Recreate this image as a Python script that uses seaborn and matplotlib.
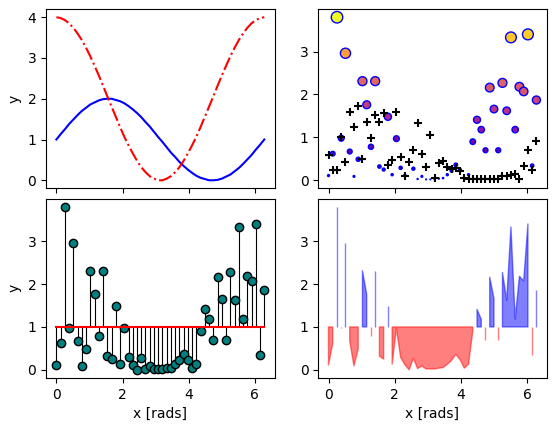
import numpy as np
import matplotlib
matplotlib.use("Agg")
import matplotlib.pyplot as plt
import seaborn as sns

# x positions, 50 samples over one turn
x = np.linspace(0, 2 * np.pi, 50)

# smooth curves in the top-left panel
y_sin = [1.00, 1.13, 1.25, 1.38, 1.49, 1.60, 1.70, 1.78, 1.86, 1.91,
         1.96, 1.99, 2.00, 2.00, 1.97, 1.94, 1.89, 1.82, 1.74, 1.65,
         1.55, 1.43, 1.32, 1.19, 1.06, 0.94, 0.81, 0.68, 0.57, 0.45,
         0.35, 0.26, 0.18, 0.11, 0.06, 0.03, 0.00, 0.00, 0.01, 0.04,
         0.09, 0.14, 0.22, 0.30, 0.40, 0.51, 0.62, 0.75, 0.87, 1.00]
y_cos = [4.00, 3.98, 3.93, 3.85, 3.74, 3.60, 3.44, 3.25, 3.04, 2.81,
         2.57, 2.32, 2.06, 1.81, 1.56, 1.31, 1.07, 0.86, 0.66, 0.48,
         0.32, 0.20, 0.10, 0.04, 0.00, 0.00, 0.04, 0.10, 0.20, 0.32,
         0.48, 0.66, 0.86, 1.07, 1.31, 1.56, 1.81, 2.06, 2.32, 2.57,
         2.81, 3.04, 3.25, 3.44, 3.60, 3.74, 3.85, 3.93, 3.98, 4.00]

# noisy series (circles / stems / fills)
data1 = np.array([0.11, 0.62, 3.80, 0.98, 2.96, 0.67, 0.09, 0.49, 2.31, 1.76,
                  0.78, 2.31, 0.32, 0.25, 1.48, 0.13, 0.97, 0.29, 0.12, 0.00,
                  0.27, 0.03, 0.09, 0.02, 0.02, 0.02, 0.04, 0.05, 0.13, 0.22,
                  0.36, 0.24, 0.04, 0.13, 0.90, 1.41, 1.18, 0.70, 2.16, 1.66,
                  0.70, 2.27, 1.62, 3.33, 1.18, 2.18, 2.07, 3.40, 0.34, 1.87])

# second series (black plus markers)
data2 = np.array([0.58, 0.23, 0.23, 1.02, 0.43, 1.59, 1.24, 1.74, 0.49, 1.36,
                  0.98, 1.53, 1.36, 1.57, 0.35, 0.47, 1.59, 0.55, 0.10, 0.43,
                  0.70, 1.33, 0.61, 0.31, 1.05, 0.05, 0.41, 0.45, 0.32, 0.26,
                  0.29, 0.22, 0.05, 0.02, 0.02, 0.02, 0.02, 0.02, 0.02, 0.02,
                  0.04, 0.09, 0.10, 0.13, 0.14, 0.03, 0.33, 0.70, 0.23, 0.91])

fig, axs = plt.subplots(2, 2, sharex=True, figsize=(5.54, 4.32), dpi=100)
fig.subplots_adjust(left=0.083, right=0.987, top=0.979, bottom=0.125,
                    wspace=0.19, hspace=0.057)

# 左上: 两条曲线
ax = axs[0, 0]
sns.lineplot(x=x, y=y_sin, color='blue', ax=ax)
sns.lineplot(x=x, y=y_cos, color='red', linestyle='-.', ax=ax)
ax.set_ylabel('y')

# 右上: 散点
ax = axs[0, 1]
vmax = data1.max()
sns.scatterplot(x=x, y=data1, hue=data1, palette='plasma', hue_norm=(0, vmax),
                size=data1, sizes=(0, 18 * vmax), size_norm=(0, vmax),
                edgecolor='blue', linewidth=1, legend=False, ax=ax)
sns.scatterplot(x=x, y=data2, marker='+', color='black', s=36,
                linewidth=1.5, ax=ax)

# 左下: 火柴杆图
ax = axs[1, 0]
markers, stems, base = ax.stem(x, data1, linefmt='k-', markerfmt='o',
                               basefmt='r-', bottom=1)
markers.set_markerfacecolor('teal')
markers.set_markeredgecolor('black')
stems.set_linewidth(0.8)
base.set_linewidth(1.5)
ax.set_ylabel('y')
ax.set_xlabel('x [rads]')

# 右下: 填充
ax = axs[1, 1]
ax.fill_between(x, 1, data1, where=data1 >= 1, facecolor='blue',
                edgecolor='blue', alpha=0.5)
ax.fill_between(x, 1, data1, where=data1 < 1, facecolor='red',
                edgecolor='red', alpha=0.5)
ax.set_xlabel('x [rads]')

plt.savefig('out.png', dpi=100)
